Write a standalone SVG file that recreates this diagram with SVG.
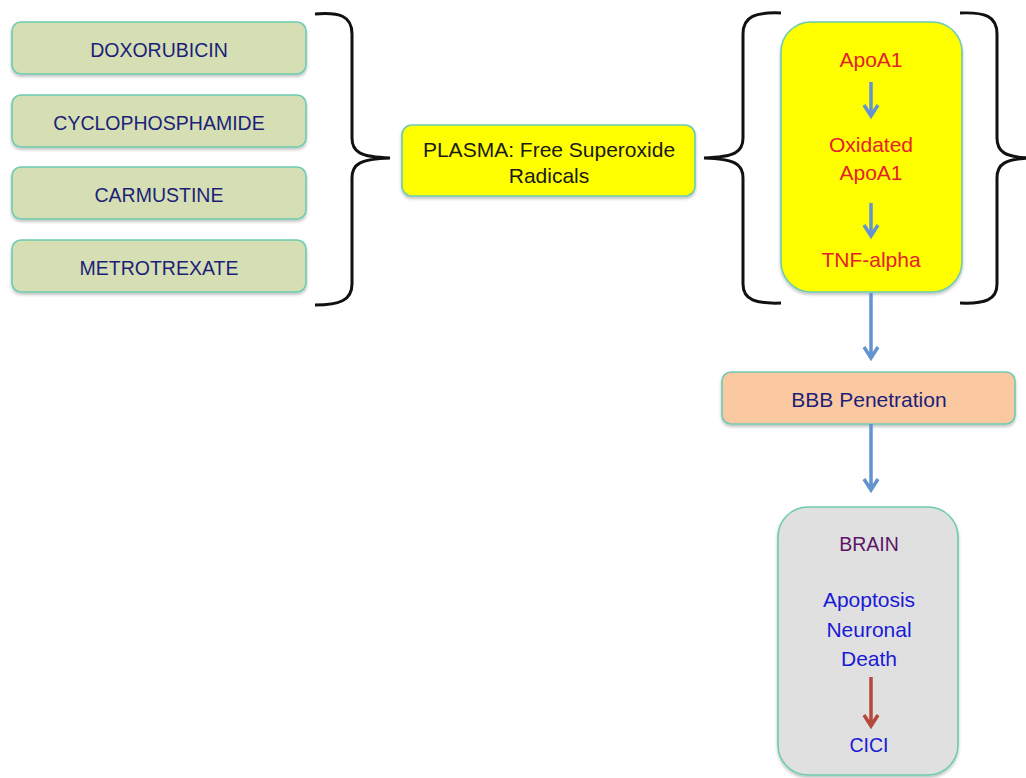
<svg xmlns="http://www.w3.org/2000/svg" width="1026" height="778" viewBox="0 0 1026 778">
<style>
.box{stroke:#6ccbb0;stroke-width:1.6}
.drug{fill:#d5dfb3}
.t{font-family:"Liberation Sans",Arial,sans-serif;font-size:21px;text-anchor:middle}
.c{font-size:19.5px}
.navy{fill:#1c1f78}
.red{fill:#e2232b}
.brace{fill:none;stroke:#111;stroke-width:3}
.arr{fill:none;stroke:#6394d0;stroke-width:3.5;stroke-linejoin:miter}
.arrR{fill:none;stroke:#b5483c;stroke-width:3.5;stroke-linejoin:miter}
</style>
<defs>
<filter id="sh" x="-10%" y="-10%" width="120%" height="130%">
<feDropShadow dx="0" dy="2" stdDeviation="1.5" flood-color="#000" flood-opacity="0.25"/>
</filter>
</defs>
<rect width="1026" height="778" fill="#fff"/>
<g id="doxorubicin"><rect class="box drug" x="12" y="22" width="294" height="52" rx="9" filter="url(#sh)"/><text class="t c navy" x="159" y="57">DOXORUBICIN</text></g>
<g id="cyclophosphamide"><rect class="box drug" x="12" y="95" width="294" height="52" rx="9" filter="url(#sh)"/><text class="t c navy" x="159" y="130">CYCLOPHOSPHAMIDE</text></g>
<g id="carmustine"><rect class="box drug" x="12" y="167" width="294" height="52" rx="9" filter="url(#sh)"/><text class="t c navy" x="159" y="202">CARMUSTINE</text></g>
<g id="metrotrexate"><rect class="box drug" x="12" y="240" width="294" height="52" rx="9" filter="url(#sh)"/><text class="t c navy" x="159" y="275">METROTREXATE</text></g>
<g id="plasma"><rect class="box" x="402" y="125" width="293" height="71" rx="10" fill="#ffff00" filter="url(#sh)"/><text class="t" fill="#1a1a1a" x="549" y="157">PLASMA: Free Superoxide</text><text class="t" fill="#1a1a1a" x="549" y="183">Radicals</text></g>
<g id="apoa1-group"><rect class="box" x="781" y="22" width="181" height="270" rx="30" fill="#ffff00" filter="url(#sh)"/>
<text class="t red" x="871" y="67">ApoA1</text>
<text class="t red" x="871" y="152">Oxidated</text>
<text class="t red" x="871" y="180">ApoA1</text>
<text class="t red" x="871" y="267">TNF-alpha</text></g>
<g id="bbb"><rect class="box" x="722" y="372" width="293" height="52" rx="9" fill="#fbc9a1" filter="url(#sh)"/><text class="t navy" x="869" y="407">BBB Penetration</text></g>
<g id="brain"><rect class="box" x="778" y="507" width="180" height="268" rx="30" fill="#e0e0e0" filter="url(#sh)"/>
<text class="t c" fill="#5c1566" x="869" y="551">BRAIN</text>
<text class="t" fill="#1a1ad6" x="869" y="607">Apoptosis</text>
<text class="t" fill="#1a1ad6" x="869" y="637">Neuronal</text>
<text class="t" fill="#1a1ad6" x="869" y="666">Death</text>
<text class="t c" fill="#1a1ad6" x="869" y="752">CICI</text></g>
<g id="connectors">
<path class="brace" d="M315,14 C340,12 352,16 352,34 L352,138 C352,152 360,157 390,158 C360,159 352,164 352,178 L352,284 C352,300 340,305 315,305"/>
<path class="brace" d="M781,13 C756,12 743,16 743,34 L743,138 C743,152 735,157 704,158 C735,159 743,164 743,178 L743,284 C743,300 756,304 781,303"/>
<path class="brace" d="M960,13 C985,12 997,16 997,34 L997,138 C997,152 1005,157 1030,158 C1005,159 997,164 997,178 L997,284 C997,300 985,304 960,303"/>
<path class="arr" d="M871,82 V115 M864,105 L871,116 L878,105"/>
<path class="arr" d="M871,203 V235 M864,225 L871,236 L878,225"/>
<path class="arr" d="M871,293 V357 M864,347 L871,358 L878,347"/>
<path class="arr" d="M871,424 V489 M864,479 L871,490 L878,479"/>
<path class="arrR" d="M871,677 V725 M864,715 L871,726 L878,715"/>
</g>
</svg>
